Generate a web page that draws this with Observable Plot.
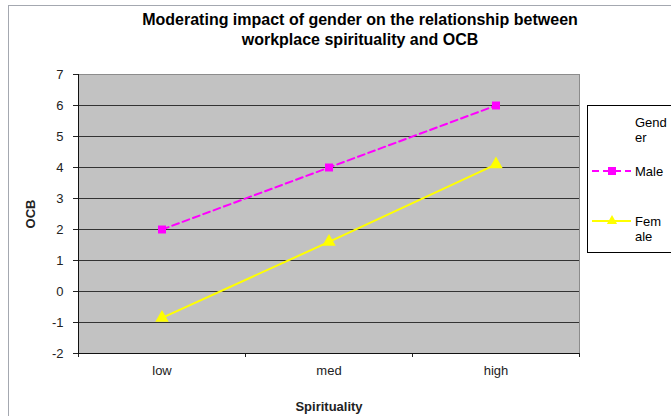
<!DOCTYPE html>
<html><head><meta charset="utf-8">
<script src="https://cdn.jsdelivr.net/npm/d3@7"></script>
<script src="https://cdn.jsdelivr.net/npm/@observablehq/plot@0.6"></script>
<style>
body{margin:0;background:#fff;font-family:"Liberation Sans",Arial,sans-serif}
#wrap{position:relative;width:671px;height:416px;overflow:hidden;background:#fff}
#outer{position:absolute;left:8px;top:5px;width:720px;height:460px;border:1px solid #a4a8b0}
#title{position:absolute;left:60px;width:600px;top:10px;text-align:center;font-weight:bold;font-size:16px;line-height:20px;color:#000}
#chart{position:absolute;left:0;top:0}
#legend{position:absolute;left:587px;top:105px}
g[aria-label="y-axis label"] text, g[aria-label="x-axis label"] text{font-weight:bold;font-size:13px}
</style>
</head><body>
<div id="wrap">
<div id="outer"></div>
<div id="title">Moderating impact of gender on the relationship between<br>workplace spirituality and OCB</div>
<div id="chart"></div>
<div id="legend"></div>
</div>
<script>
const categories = ["low", "med", "high"];
const maleValues = [2, 4, 6];
const femaleValues = [-0.85, 1.6, 4.1];
const seriesNames = ["Male", "Female"];
const legendLabels = [["Male"], ["Fem", "ale"]];
const legendTitle = ["Gend", "er"];
const seriesColors = ["#ff00ff", "#ffff00"];
const yTicks = [-2, -1, 0, 1, 2, 3, 4, 5, 6, 7];

const rows = [];
categories.forEach((c, i) => {
  rows.push({series: "Male", pos: i + 0.5, value: maleValues[i]});
  rows.push({series: "Female", pos: i + 0.5, value: femaleValues[i]});
});
const maleRows = rows.filter(d => d.series === "Male");
const femaleRows = rows.filter(d => d.series === "Female");

const chart = Plot.plot({
  width: 671, height: 416,
  marginLeft: 78, marginRight: 92, marginTop: 74, marginBottom: 63,
  x: {domain: [0, categories.length]},
  y: {domain: [yTicks[0], yTicks[yTicks.length - 1]]},
  style: {fontFamily: "Liberation Sans, Arial, sans-serif", fontSize: "13px", color: "#222", background: "transparent"},
  marks: [
    Plot.frame({fill: "#c2c2c2", stroke: "#8c8c8c"}),
    Plot.ruleY(yTicks.slice(1, -1), {stroke: "#333", strokeWidth: 1}),
    Plot.axisY({ticks: yTicks, tickFormat: d => String(d), tickSize: 5, tickPadding: 10, label: "OCB", labelAnchor: "center", labelOffset: 53, labelArrow: "none"}),
    Plot.axisX({ticks: d3.range(categories.length + 1), tickFormat: () => "", tickSize: 4, label: null}),
    Plot.axisX({ticks: categories.map((c, i) => i + 0.5), tickFormat: d => categories[Math.floor(d)], tickSize: 0, tickPadding: 12, label: "Spirituality", labelAnchor: "center", labelOffset: 57, labelArrow: "none"}),
    Plot.ruleY([yTicks[0]], {stroke: "#111"}),
    Plot.ruleX([0], {stroke: "#111"}),
    Plot.line(maleRows, {x: "pos", y: "value", stroke: seriesColors[0], strokeWidth: 2, strokeDasharray: "7,4"}),
    Plot.line(femaleRows, {x: "pos", y: "value", stroke: seriesColors[1], strokeWidth: 2}),
    Plot.dot(maleRows, {x: "pos", y: "value", symbol: "square", fill: seriesColors[0], r: 4.5}),
    Plot.dot(femaleRows, {x: "pos", y: "value", symbol: "triangle", fill: seriesColors[1], r: 5})
  ]
});
document.getElementById("chart").append(chart);

// legend
const lg = d3.select("#legend").append("svg").attr("width", 90).attr("height", 150)
  .style("font-family", "Liberation Sans, Arial, sans-serif").style("font-size", "13px");
lg.append("rect").attr("x", 0.5).attr("y", 0.5).attr("width", 100).attr("height", 147).attr("fill", "#fff").attr("stroke", "#000");
legendTitle.forEach((t, j) => lg.append("text").attr("x", 48).attr("y", 22 + j * 15).text(t));
const rowY = [66, 116];
const symbols = [d3.symbolSquare, d3.symbolTriangle];
seriesNames.forEach((s, k) => {
  const y = rowY[k];
  lg.append("line").attr("x1", 5).attr("x2", 44).attr("y1", y).attr("y2", y)
    .attr("stroke", seriesColors[k]).attr("stroke-width", 2).attr("stroke-dasharray", k === 0 ? "7,4" : null);
  lg.append("path").attr("transform", `translate(25,${y})`)
    .attr("d", d3.symbol(symbols[k], k === 0 ? 64 : 45)()).attr("fill", seriesColors[k]);
  legendLabels[k].forEach((t, j) => lg.append("text").attr("x", 48).attr("y", y + 5 + j * 15).text(t));
});
</script>
</body></html>
